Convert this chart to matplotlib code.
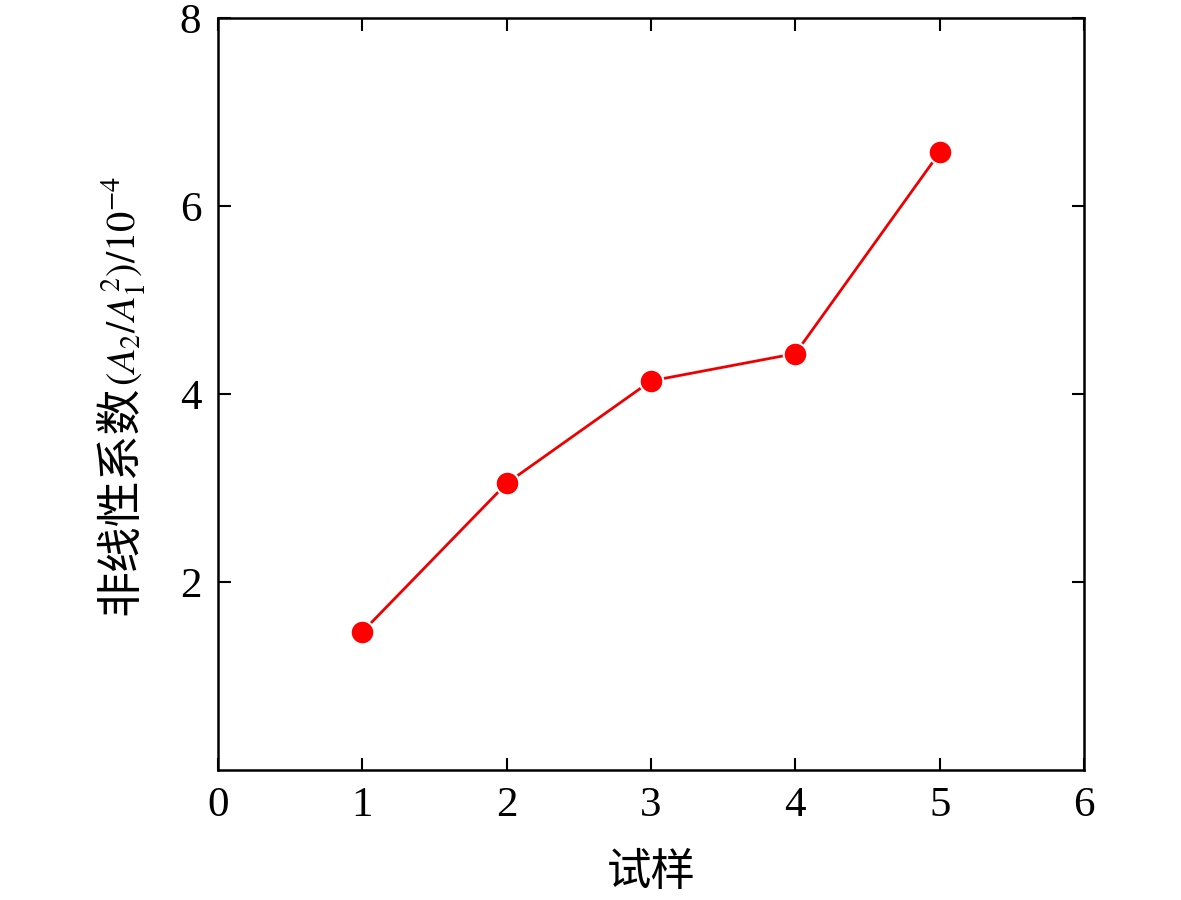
import numpy as np
import matplotlib
matplotlib.use("Agg")
import matplotlib.pyplot as plt

# data
samples = [1, 2, 3, 4, 5]
coef = [1.47, 3.05, 4.14, 4.43, 6.57]

x_ticks = [0, 1, 2, 3, 4, 5, 6]
y_ticks = [2, 4, 6, 8]

plt.rcParams['font.family'] = ['Liberation Serif', 'Noto Sans CJK SC']
plt.rcParams['mathtext.fontset'] = 'stix'
plt.rcParams['font.size'] = 31

fig = plt.figure(figsize=(11.81, 9), dpi=100)
ax = fig.add_axes([0.1846, 0.1444, 0.7333, 0.8356])

ax.plot(samples, coef, color='#ee0000', lw=2, marker='o', ms=17,
        mfc='#ff0000', mec='white', mew=1.5)

ax.set_xlim(0, 6)
ax.set_ylim(0, 8)
ax.set_xticks(x_ticks)
ax.set_yticks(y_ticks)

ax.tick_params(direction='in', top=True, right=True, length=9, width=1.5, pad=12)
for s in ax.spines.values():
    s.set_linewidth(1.8)

ax.set_xlabel('试样', labelpad=20, fontsize=32)

# y label: chinese part + math part (mathtext has no CJK fallback)
yl_x = 120 / 1181
y0 = 1 - 615 / 900
t1 = fig.text(yl_x, y0, '非线性系数', rotation=90, ha='center', va='bottom',
              fontsize=33, family=['Noto Sans CJK SC'])
fig.canvas.draw()
h = t1.get_window_extent().height / fig.bbox.height
fig.text(yl_x + 0.003, y0 + h, r'$(A_2/A_1^2)/10^{-4}$', rotation=90,
         ha='center', va='bottom', fontsize=29)

fig.savefig('out.png', dpi=100)
